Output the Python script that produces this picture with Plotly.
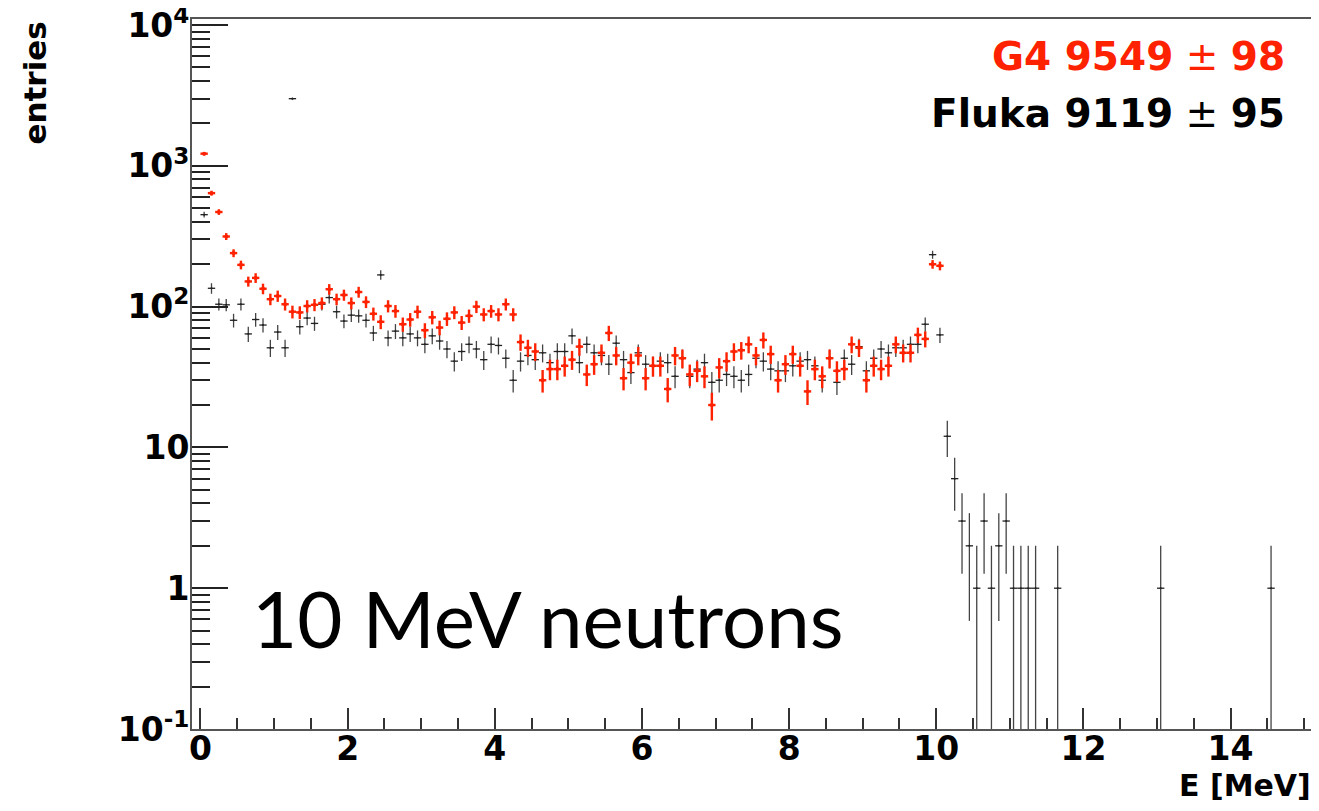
import numpy as np
import plotly.graph_objects as go

# bin centres (0.1 MeV bins) for the main region 0-10.1 MeV
bin_centres = [round(0.05 + 0.1 * i, 2) for i in range(101)]

g4_counts = [1220, 640, 470, 315, 240, 198, 151, 160, 134, 113,
             119, 104, 92, 91, 101, 103, 106, 133, 113, 121,
             106, 127, 108, 89, 78, 101, 93, 75, 81, 92,
             68, 84, 71, 82, 91, 77, 86, 100, 88, 93,
             88, 104, 88, 56, 51, 48, 30, 36, 36, 38,
             42, 52, 33, 39, 47, 65, 45, 31, 40, 45,
             31, 38, 38, 26, 45, 43, 33, 35, 32, 20,
             37, 41, 48, 49, 54, 45, 58, 46, 30, 39,
             46, 38, 25, 36, 32, 43, 35, 36, 54, 51,
             30, 38, 36, 38, 54, 47, 47, 63, 59, 200,
             195]

fluka_counts_main = [450, 135, 104, 103, 80, 104, 64, 81, 74, 51,
                     66, 51, 3000, 72, 83, 76, 104, 116, 92, 79,
                     87, 86, 80, 65, 168, 60, 67, 60, 64, 60,
                     54, 62, 57, 50, 41, 48, 54, 50, 42, 54,
                     53, 43, 30, 41, 45, 42, 47, 40, 48, 48,
                     62, 40, 54, 47, 45, 39, 55, 42, 34, 47,
                     39, 38, 41, 40, 32, 43, 32, 36, 40, 29,
                     30, 33, 32, 30, 33, 43, 41, 36, 35, 35,
                     38, 41, 42, 38, 30, 43, 29, 43, 39, 52,
                     35, 43, 50, 47, 51, 51, 54, 54, 75, 234,
                     63]

fluka_tail_x = [10.15, 10.25, 10.35, 10.45, 10.55, 10.65, 10.75, 10.85,
                10.95, 11.05, 11.15, 11.25, 11.35, 11.65, 13.05, 14.55]
fluka_tail_counts = [12, 6, 3, 2, 1, 3, 1, 2, 3, 1, 1, 1, 1, 1, 1, 1]

x_tick_vals = [0, 2, 4, 6, 8, 10, 12, 14]
y_tick_vals = [0.1, 1, 10, 100, 1000, 10000]
y_tick_text = ["10<sup>-1</sup>", "1", "10", "10<sup>2</sup>", "10<sup>3</sup>", "10<sup>4</sup>"]

legend_g4 = "<b>G4 9549</b> ± <b>98</b>"
legend_fluka = "<b>Fluka 9119</b> ± <b>95</b>"
x_title = "E [MeV]"
y_title = "entries"
label_text = "10 MeV neutrons"

RED = "#ff2200"
BLACK = "#222222"
AXIS = "#555555"
BOLD_FONT = "DejaVu Sans"


def errs(counts):
    c = np.asarray(counts, dtype=float)
    up = np.sqrt(c)
    down = np.minimum(np.sqrt(c), c * 0.9999)
    return up, down


fluka_x = bin_centres + fluka_tail_x
fluka_y = fluka_counts_main + fluka_tail_counts

fig = go.Figure()

fu, fd = errs(fluka_y)
fig.add_trace(go.Scatter(
    x=fluka_x, y=fluka_y, mode="markers",
    marker=dict(size=2, color=BLACK),
    error_x=dict(type="constant", value=0.05, width=0, thickness=1.3, color=BLACK),
    error_y=dict(type="data", array=fu, arrayminus=fd, width=0, thickness=1.3, color="#444444"),
    showlegend=False, cliponaxis=True,
))

gu, gd = errs(g4_counts)
fig.add_trace(go.Scatter(
    x=bin_centres, y=g4_counts, mode="markers",
    marker=dict(size=4, color=RED),
    error_x=dict(type="constant", value=0.05, width=0, thickness=2.4, color=RED),
    error_y=dict(type="data", array=gu, arrayminus=gd, width=0, thickness=2.4, color=RED),
    showlegend=False,
))

# dummy trace for minor-tick overlay axis
fig.add_trace(go.Scatter(x=[None], y=[None], yaxis="y2", showlegend=False, hoverinfo="skip"))

minor_vals = [k * 10.0 ** d for d in range(-1, 4) for k in range(2, 10)]

# the page body adds an 8px offset, so the figure is sized/margined to compensate
fig.update_layout(
    width=1311, height=803,
    margin=dict(l=184, r=6, t=11, b=82),
    paper_bgcolor="white", plot_bgcolor="white",
    xaxis=dict(
        range=[-0.115, 15.12], tickvals=x_tick_vals, automargin=False,
        ticks="inside", ticklen=21, tickwidth=1.5, tickcolor="#333333",
        minor=dict(dtick=0.5, ticks="inside", ticklen=11, tickwidth=1.5, tickcolor="#333333"),
        showline=True, mirror=True, linecolor=AXIS, linewidth=2,
        showgrid=False, zeroline=False,
        tickfont=dict(family=BOLD_FONT, size=33, color="black", weight="bold"),
        ticklabelstandoff=-11, ticklabeloverflow="allow",
    ),
    yaxis=dict(
        type="log", range=[-1, 4.043], automargin=False,
        tickvals=y_tick_vals, ticktext=y_tick_text,
        ticks="inside", ticklen=36, tickwidth=1.5, tickcolor="#222222",
        showline=True, mirror=True, linecolor=AXIS, linewidth=2,
        showgrid=False, zeroline=False,
        tickfont=dict(family=BOLD_FONT, size=33, color="black", weight="bold"),
        ticklabelstandoff=-6, ticklabeloverflow="allow",
    ),
    yaxis2=dict(
        type="log", range=[-1, 4.043], overlaying="y", anchor="x", side="left",
        automargin=False,
        tickvals=minor_vals, ticks="inside", ticklen=18, tickwidth=1.5, tickcolor="#222222",
        showticklabels=False, showgrid=False, zeroline=False, showline=False,
    ),
    annotations=[
        dict(text=legend_g4, xref="paper", yref="paper", x=0.9768, y=0.9465,
             xanchor="right", yanchor="middle", showarrow=False,
             font=dict(family=BOLD_FONT, size=39, color=RED)),
        dict(text=legend_fluka, xref="paper", yref="paper", x=0.9768, y=0.8676,
             xanchor="right", yanchor="middle", showarrow=False,
             font=dict(family=BOLD_FONT, size=39, color="black")),
        dict(text=label_text, xref="paper", yref="paper", x=0.0517, y=0.1566,
             xanchor="left", yanchor="middle", showarrow=False,
             font=dict(family="Lato", size=78, color="black")),
        dict(text=f"<b>{x_title}</b>", xref="paper", yref="paper", x=1.0, y=-0.08,
             xanchor="right", yanchor="middle", showarrow=False,
             font=dict(family=BOLD_FONT, size=30, color="black")),
        dict(text=f"<b>{y_title}</b>", xref="paper", yref="paper", x=-0.14, y=0.9986,
             xanchor="center", yanchor="top", textangle=-90, showarrow=False,
             font=dict(family=BOLD_FONT, size=31, color="black")),
    ],
)

fig.write_html("out.html")
